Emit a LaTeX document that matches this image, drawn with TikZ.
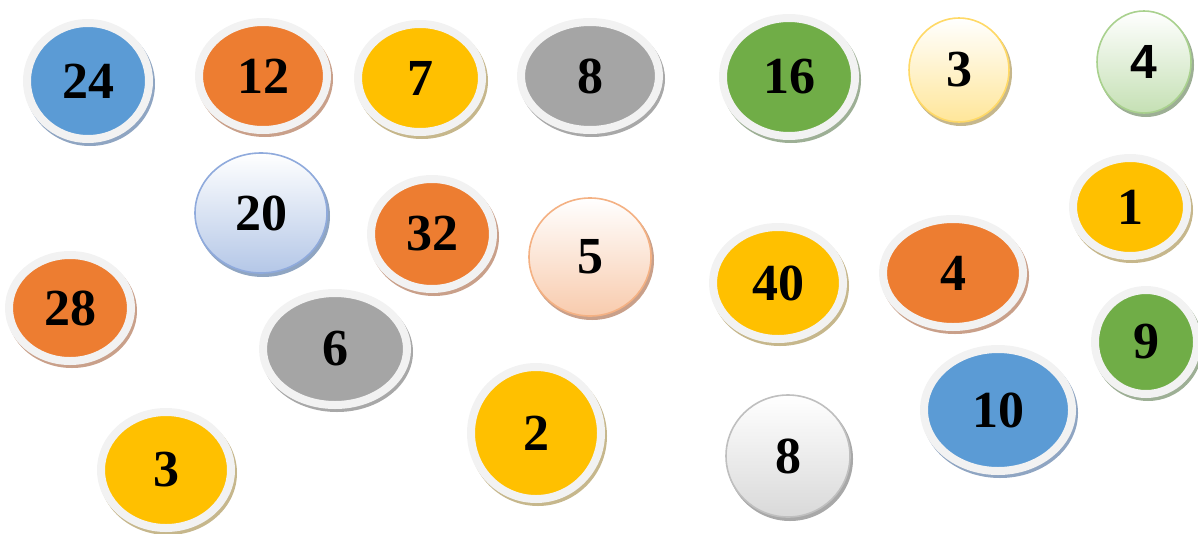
\documentclass[tikz,border=0pt]{standalone}
\usepackage{fontspec}
\setmainfont{Liberation Serif}
\newfontfamily\sansnum{Liberation Sans}
\usetikzlibrary{shapes.geometric}
\definecolor{rimgray}{HTML}{F2F2F2}
\definecolor{cblue}{HTML}{5B9BD5}
\definecolor{corange}{HTML}{ED7D31}
\definecolor{cyellow}{HTML}{FFC000}
\definecolor{cgray}{HTML}{A5A5A5}
\definecolor{cgreen}{HTML}{70AD47}
\definecolor{sblue}{HTML}{8FA5C2}
\definecolor{sorange}{HTML}{C9A08A}
\definecolor{syellow}{HTML}{C6B78C}
\definecolor{sgray}{HTML}{A8A8A8}
\definecolor{sgreen}{HTML}{9DAF95}
\definecolor{eblue}{HTML}{8FAADC}
\definecolor{bblue}{HTML}{B4C7E7}
\definecolor{eyellow}{HTML}{FFD966}
\definecolor{byellow}{HTML}{FFE699}
\definecolor{egreen}{HTML}{A9D18E}
\definecolor{bgreen}{HTML}{C5E0B4}
\definecolor{eorange}{HTML}{F4B183}
\definecolor{borange}{HTML}{F8CBAD}
\definecolor{egray}{HTML}{BFBFBF}
\definecolor{bgray}{HTML}{D9D9D9}

\begin{document}
\begin{tikzpicture}[
      x=1pt, y=-1pt,
      num/.style={font=\fontsize{52}{52}\selectfont\bfseries},
      coin/.style={ellipse, inner sep=0pt, draw=rimgray, line width=8pt, num},
      glass/.style={ellipse, inner sep=0pt, line width=1.6pt, top color=white, num}
    ]
    \useasboundingbox (0,0) rectangle (1198,533);
    % solid coins with a light rim: name/x/y/rx/ry/fill/shadow/label
    \foreach \nm/\x/\y/\rx/\ry/\col/\sh/\txt in {
        c24/88/81/57/54/cblue/sblue/24,
        c12/263/76/60/50/corange/sorange/12,
        c7/420/78/58/50/cyellow/syellow/7,
        c8/590/76/65/50/cgray/sgray/8,
        c16/789/77/62/55/cgreen/sgreen/16,
        c32/432/234/57/51/corange/sorange/32,
        c40/778/283/61/52/cyellow/syellow/40,
        c4/953/273/66/50/corange/sorange/4,
        c1/1130/207/53/45/cyellow/syellow/1,
        c28/70/308/57/49/corange/sorange/28,
        c6/335/349/68/52/cgray/sgray/6,
        c2/536/433/61/62/cyellow/syellow/2,
        c10/998/410/70/57/cblue/sblue/10,
        c9/1146/342/47/48/cgreen/sgreen/9,
        c3/166/470/61/54/cyellow/syellow/3}
    {
      \fill[\sh] (\x+2,\y+3) ellipse [x radius=\rx+8, y radius=\ry+8];
      \node[coin, fill=\col, minimum width=2*\rx+8, minimum height=2*\ry+8] (\nm) at (\x,\y) {\txt};
    }
    % shaded coins: name/x/y/rx/ry/edge/bottom/shadow/label
    \foreach \nm/\x/\y/\rx/\ry/\edge/\base/\sh/\txt in {
        g3/959/70/51/53/eyellow/byellow/syellow/3,
        g4/1144/62/48/52/egreen/bgreen/sgreen/{\sansnum\fontsize{48}{48}\selectfont 4},
        g20/261/213/67/61/eblue/bblue/sblue/20,
        g5/590/257/62/60/eorange/borange/sorange/5,
        g8/788/456/63/62/egray/bgray/sgray/8}
    {
      \fill[\sh] (\x+2,\y+3) ellipse [x radius=\rx, y radius=\ry];
      \node[glass, draw=\edge, bottom color=\base, minimum width=2*\rx-2, minimum height=2*\ry-2] (\nm) at (\x,\y) {\txt};
    }
  \end{tikzpicture}
\end{document}
